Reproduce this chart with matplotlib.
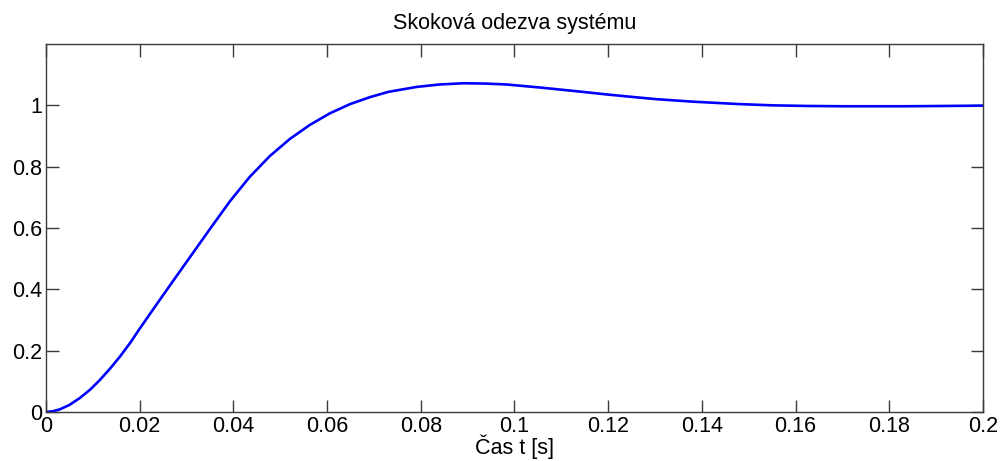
import matplotlib
matplotlib.use("Agg")
import matplotlib.pyplot as plt

# Step response samples: time [s] and output
t = [0.0, 0.0015, 0.003, 0.005, 0.00726, 0.0095, 0.01153, 0.0137, 0.0158, 0.018,
     0.0201, 0.0222, 0.0243, 0.0261, 0.0279, 0.0298, 0.0318, 0.035, 0.0393, 0.0435,
     0.0478, 0.0521, 0.0563, 0.0606, 0.0649, 0.0692, 0.0731, 0.0791, 0.084, 0.0891,
     0.0937, 0.0983, 0.1055, 0.1126, 0.120, 0.1268, 0.1304, 0.138, 0.148, 0.155,
     0.1624, 0.170, 0.1837, 0.192, 0.2]
y = [0.0, 0.0025, 0.009, 0.023, 0.046, 0.074, 0.105, 0.142, 0.181, 0.226,
     0.274, 0.320, 0.366, 0.405, 0.444, 0.485, 0.528, 0.597, 0.688, 0.767,
     0.835, 0.891, 0.936, 0.974, 1.004, 1.027, 1.044, 1.060, 1.068, 1.072,
     1.071, 1.068, 1.058, 1.047, 1.035, 1.025, 1.020, 1.012, 1.004, 1.000,
     0.998, 0.997, 0.997, 0.998, 0.999]

x_ticks = [0, 0.02, 0.04, 0.06, 0.08, 0.1, 0.12, 0.14, 0.16, 0.18, 0.2]
x_tick_labels = ["0", "0.02", "0.04", "0.06", "0.08", "0.1", "0.12", "0.14",
                 "0.16", "0.18", "0.2"]
y_ticks = [0, 0.2, 0.4, 0.6, 0.8, 1.0]
y_tick_labels = ["0", "0.2", "0.4", "0.6", "0.8", "1"]

plt.rcParams['font.family'] = ['Liberation Sans', 'DejaVu Sans']

fig = plt.figure(figsize=(10.04, 4.61), dpi=100)
ax = fig.add_axes([46 / 1004, 49 / 461, (983 - 46) / 1004, (412 - 44) / 461])

ax.plot(t, y, color=(0, 0, 1), linewidth=1.9,
        solid_capstyle='round', solid_joinstyle='round')

ax.set_xlim(0, 0.2)
ax.set_ylim(0, 1.2)
ax.set_xticks(x_ticks)
ax.set_xticklabels(x_tick_labels)
ax.set_yticks(y_ticks)
ax.set_yticklabels(y_tick_labels)

for s in ax.spines.values():
    s.set_color('#3a3a3a')
    s.set_linewidth(1.0)
ax.tick_params(direction='in', length=9, width=1.0, color='#3a3a3a',
               top=True, right=True, labelsize=15.5, pad=3)
ax.tick_params(axis='y', pad=3)

ax.set_title("Skoková odezva systému", fontsize=15.5, pad=11)
ax.set_xlabel("Čas t [s]", fontsize=15.5, labelpad=-2)

fig.savefig("out.png", dpi=100, facecolor='white')
